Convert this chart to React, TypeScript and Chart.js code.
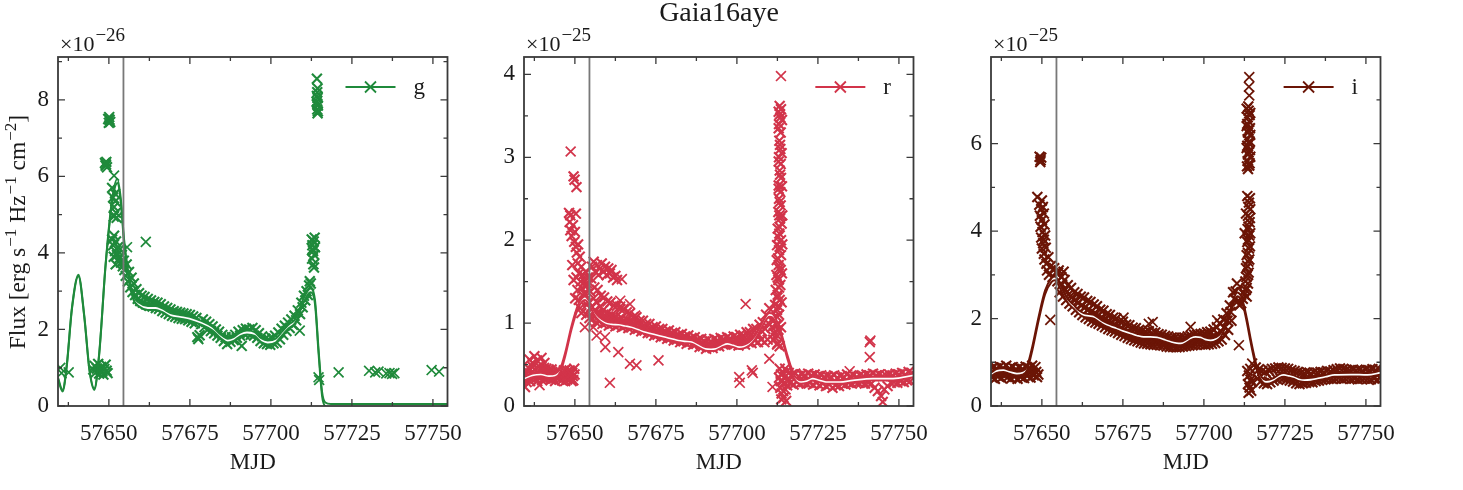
import React, { useEffect, useRef } from 'react';
import { Chart, registerables } from 'chart.js';

Chart.register(...registerables);

type Pt = [number, number];

const FONT = '"Liberation Serif", "Times New Roman", serif';
const TEXT = '#1a1a1a';
const FRAME = '#3a3a3a';

// Epoch marked by the grey vertical line
const PEAK_MJD = 57654.5;
const MJD_RANGE: [number, number] = [57634.3, 57754.5];
const MJD_TICKS = [57650, 57675, 57700, 57725, 57750];
const MJD_MINOR = [57637.5, 57662.5, 57687.5, 57712.5, 57737.5];

// ---------- g band, flux in units of 1e-26 erg s^-1 Hz^-1 cm^-2 ----------
const gTicks = [0, 2, 4, 6, 8];
const gMinor = [1, 3, 5, 7, 9];

const gModel: Pt[] = [
  [57634.3, 0.72], [57635.7, 0.40], [57637.0, 1.05], [57638.6, 2.55], [57640.6, 3.41],
  [57642.4, 2.35], [57644.0, 0.95], [57645.5, 0.44], [57647.0, 1.35], [57649.0, 3.70],
  [57651.0, 5.35], [57652.6, 5.88], [57653.7, 5.35], [57654.7, 4.30], [57655.9, 3.50],
  [57657.5, 2.85], [57659.5, 2.64], [57662.0, 2.56], [57664.5, 2.56], [57666.5, 2.50],
  [57669.0, 2.38], [57672.0, 2.33], [57675.0, 2.28], [57678.3, 2.18], [57682.0, 2.02],
  [57684.5, 1.82], [57686.7, 1.71], [57688.5, 1.75], [57690.5, 1.87], [57692.6, 1.92],
  [57695.0, 1.88], [57697.0, 1.72], [57699.0, 1.66], [57701.5, 1.71], [57703.5, 1.90],
  [57705.5, 2.08], [57707.5, 2.22], [57710.1, 2.76], [57712.2, 3.02], [57713.6, 2.72],
  [57714.7, 1.44], [57715.8, 0.31], [57716.8, 0.04], [57718.5, 0.0], [57754.5, 0.0],
];

const gEarly: Pt[] = [
  [57645.2, 0.95], [57645.6, 1.05], [57646.0, 0.88], [57646.3, 0.98], [57646.7, 1.10],
  [57647.0, 0.85], [57647.3, 0.95], [57647.6, 1.02], [57648.0, 0.90], [57648.3, 0.82],
  [57648.6, 0.97], [57649.0, 1.08], [57649.3, 0.92], [57649.6, 0.86],
];

const gPeak: Pt[] = [
  [57649.8, 7.50], [57650.0, 7.40], [57650.2, 7.48], [57650.4, 7.42], [57650.1, 7.55],
  [57648.8, 6.35], [57649.0, 6.28], [57649.2, 6.38], [57649.4, 6.24], [57649.1, 6.31],
  [57651.0, 5.70], [57651.3, 5.45], [57651.6, 5.20], [57651.9, 5.55], [57652.2, 5.05],
  [57652.4, 4.92], [57651.5, 4.95], [57652.0, 5.35],
  [57651.0, 4.35], [57651.3, 4.20], [57651.6, 4.45], [57651.9, 4.05], [57652.2, 4.30],
  [57652.5, 3.95], [57652.8, 4.15], [57653.1, 3.85], [57653.4, 4.10], [57653.7, 3.75],
  [57654.0, 3.95], [57654.3, 3.65], [57654.6, 3.80], [57651.5, 3.90], [57652.1, 3.70],
];

const gDecline: Pt[] = [
  [57654.8, 3.55], [57655.2, 3.40], [57655.5, 3.70], [57655.9, 3.25], [57656.2, 3.50],
  [57656.6, 3.10], [57657.0, 3.35], [57657.3, 2.98], [57657.7, 3.20], [57658.1, 2.90],
  [57658.5, 3.05], [57658.9, 2.80], [57659.3, 2.95], [57659.7, 2.74], [57660.1, 2.88],
  [57660.5, 2.70], [57661.0, 2.85], [57661.5, 2.66], [57662.0, 2.80], [57662.5, 2.62],
  [57663.0, 2.76], [57663.5, 2.60], [57664.0, 2.72], [57664.5, 2.56], [57665.0, 2.70],
  [57665.5, 2.54], [57666.0, 2.66], [57666.5, 2.48], [57667.0, 2.60], [57667.5, 2.44],
  [57668.0, 2.56], [57668.5, 2.40], [57669.0, 2.52], [57669.5, 2.36], [57670.0, 2.48],
  [57670.5, 2.33], [57671.0, 2.46], [57671.5, 2.30], [57672.0, 2.44], [57672.5, 2.28],
  [57673.0, 2.42], [57673.5, 2.27], [57674.0, 2.40], [57674.5, 2.24], [57675.0, 2.38],
  [57675.5, 2.20], [57676.0, 2.34], [57676.5, 2.16], [57677.0, 2.30], [57677.3, 1.80],
  [57677.6, 1.75], [57678.0, 1.85], [57678.5, 2.14], [57679.0, 2.26], [57679.5, 2.06],
  [57680.0, 2.20], [57680.5, 2.00], [57681.0, 2.14], [57681.5, 1.96], [57682.0, 2.08],
  [57682.5, 1.90], [57683.0, 2.00], [57683.5, 1.84], [57684.0, 1.94], [57684.5, 1.78],
  [57685.0, 1.86], [57685.5, 1.70], [57686.0, 1.80], [57686.5, 1.62], [57687.0, 1.76],
  [57687.5, 1.68], [57688.0, 1.80], [57688.5, 1.72], [57689.0, 1.86], [57689.5, 1.78],
  [57690.0, 1.94], [57690.5, 1.84], [57691.0, 1.57], [57691.3, 1.98], [57691.8, 1.88],
  [57692.3, 2.02], [57692.8, 1.90], [57693.3, 2.00], [57693.8, 1.86], [57694.3, 2.04],
  [57694.8, 1.84], [57695.3, 1.98], [57695.8, 1.78], [57696.3, 1.90], [57696.8, 1.70],
  [57697.3, 1.82], [57697.8, 1.64], [57698.3, 1.76], [57698.8, 1.62], [57699.3, 1.74],
  [57699.8, 1.60], [57700.3, 1.78], [57700.8, 1.64], [57701.3, 1.84], [57701.8, 1.66],
  [57702.3, 1.92], [57702.8, 1.74], [57703.3, 2.02], [57703.8, 1.86], [57704.3, 2.10],
  [57704.8, 1.96], [57705.3, 2.18], [57705.8, 2.04], [57706.3, 2.26], [57706.8, 2.12],
  [57707.3, 2.36], [57707.8, 2.24], [57708.3, 2.50], [57709.0, 2.40],
  [57709.4, 2.70], [57709.8, 2.58], [57710.2, 2.88], [57710.6, 2.76], [57711.0, 3.00],
  [57711.4, 2.90], [57711.8, 3.15], [57712.0, 3.26], [57712.3, 3.20],
];

const gFlare: Pt[] = [
  [57712.6, 4.35], [57712.8, 4.20], [57713.0, 4.05], [57713.2, 4.30], [57713.4, 3.95],
  [57713.6, 4.15], [57712.7, 3.85], [57713.1, 3.70], [57713.5, 4.40], [57712.9, 4.10],
  [57713.3, 3.62],
  [57714.2, 8.55], [57714.3, 8.20], [57714.4, 8.05], [57714.1, 7.95], [57714.5, 7.85],
  [57714.3, 7.75], [57714.4, 7.65], [57714.2, 8.10], [57714.5, 7.70], [57714.3, 7.90],
  [57714.4, 8.30],
];

const gSparse: Pt[] = [
  [57635.0, 1.00], [57635.4, 0.86], [57637.6, 0.88], [57651.6, 6.02], [57655.6, 4.15],
  [57661.4, 4.29], [57708.9, 1.97],
  [57714.7, 0.75], [57714.9, 0.68], [57720.9, 0.88], [57730.3, 0.92], [57732.2, 0.88],
  [57733.2, 0.90], [57735.6, 0.85], [57736.6, 0.86], [57737.4, 0.84], [57738.1, 0.86],
  [57749.6, 0.94], [57751.9, 0.90],
];

// ---------- r band, flux in units of 1e-25 erg s^-1 Hz^-1 cm^-2 ----------
const rTicks = [0, 1, 2, 3, 4];
const rMinor = [0.5, 1.5, 2.5, 3.5];

const rModel: Pt[] = [
  [57634.3, 0.33], [57635.0, 0.34], [57637.0, 0.37], [57639.5, 0.38], [57642.0, 0.36],
  [57644.0, 0.37], [57645.5, 0.43], [57647.0, 0.62], [57649.0, 0.95], [57651.0, 1.20],
  [57653.1, 1.30], [57654.5, 1.24], [57656.0, 1.12], [57657.5, 1.05], [57659.5, 1.00],
  [57661.4, 0.985], [57663.5, 0.98], [57665.5, 0.965], [57667.5, 0.95], [57669.6, 0.92],
  [57671.7, 0.89], [57673.8, 0.87], [57675.9, 0.85], [57677.9, 0.83], [57680.0, 0.81],
  [57682.0, 0.79], [57684.0, 0.78], [57686.2, 0.77], [57688.2, 0.73], [57690.3, 0.69],
  [57692.0, 0.685], [57693.4, 0.69], [57695.0, 0.72], [57697.0, 0.75], [57699.0, 0.73],
  [57700.7, 0.71], [57702.3, 0.72], [57703.8, 0.75], [57705.5, 0.82], [57707.0, 0.92],
  [57708.5, 1.03], [57710.0, 1.10], [57711.0, 1.09], [57712.0, 1.03], [57713.6, 0.87],
  [57715.6, 0.59], [57717.7, 0.35], [57719.8, 0.29], [57721.5, 0.30], [57723.4, 0.33],
  [57725.5, 0.31], [57727.5, 0.29], [57731.7, 0.29], [57735.8, 0.31], [57742.0, 0.33],
  [57748.2, 0.33], [57754.5, 0.37],
];

const rEarly: Pt[] = [
  [57633.8, 0.30], [57634.3, 0.38], [57634.6, 0.23], [57634.9, 0.33], [57635.3, 0.42],
  [57635.7, 0.35], [57636.0, 0.56], [57636.2, 0.30], [57636.6, 0.40], [57636.9, 0.52],
  [57637.2, 0.36], [57637.5, 0.60], [57637.7, 0.44], [57638.0, 0.33], [57638.3, 0.55],
  [57638.6, 0.40], [57638.9, 0.48], [57639.4, 0.36], [57639.7, 0.58],
  [57640.0, 0.42], [57640.3, 0.33], [57640.6, 0.52], [57640.9, 0.38], [57641.2, 0.45],
  [57641.6, 0.34], [57642.0, 0.41], [57642.4, 0.36], [57642.8, 0.44], [57643.2, 0.33],
  [57643.6, 0.40], [57644.0, 0.37], [57644.5, 0.43], [57645.0, 0.35],
  [57646.0, 0.31], [57646.4, 0.40], [57646.8, 0.35], [57647.2, 0.44], [57647.6, 0.32],
  [57648.0, 0.38], [57648.4, 0.43], [57648.8, 0.34], [57649.2, 0.40], [57649.5, 0.31],
  [57649.8, 0.45],
  [57634.1, 0.36], [57634.7, 0.41], [57635.1, 0.29], [57635.9, 0.45], [57636.4, 0.34],
  [57637.0, 0.47], [57637.9, 0.38], [57638.4, 0.30], [57639.0, 0.43], [57639.9, 0.31],
  [57640.5, 0.46], [57641.0, 0.33], [57641.4, 0.40], [57641.9, 0.44], [57642.6, 0.32],
  [57643.0, 0.41], [57643.4, 0.38], [57643.9, 0.30], [57644.3, 0.35], [57644.8, 0.40],
  [57645.3, 0.32], [57646.2, 0.37], [57646.6, 0.43], [57647.0, 0.30], [57647.4, 0.36],
  [57647.8, 0.42], [57648.2, 0.33], [57648.6, 0.39], [57649.0, 0.30], [57649.4, 0.36],
  [57649.9, 0.38],
];

const rRise: Pt[] = [
  [57649.6, 2.77], [57649.9, 2.73], [57650.5, 2.64], [57648.2, 2.33],
  [57648.6, 2.30], [57650.3, 2.32], [57648.4, 2.22], [57648.6, 2.12], [57649.0, 2.05],
  [57649.4, 2.18], [57649.8, 1.98], [57650.0, 2.10], [57650.3, 1.92], [57650.6, 1.85],
  [57650.9, 1.72], [57651.0, 1.95], [57651.3, 1.60], [57651.5, 1.80], [57651.8, 1.50],
  [57652.0, 1.68], [57652.2, 1.42], [57652.5, 1.58], [57652.8, 1.36], [57653.0, 1.50],
  [57653.3, 1.62], [57653.6, 1.45], [57650.5, 1.55], [57650.8, 1.40], [57651.2, 1.28],
  [57651.6, 1.18], [57652.0, 1.12], [57649.2, 1.70], [57649.6, 1.52], [57650.1, 1.30],
];

const rUpper: Pt[] = [
  [57654, 1.55], [57655, 1.54], [57656, 1.43], [57657, 1.40], [57658, 1.33], [57659, 1.31],
  [57660, 1.26], [57661, 1.25], [57662, 1.21], [57663, 1.21], [57664, 1.17], [57665, 1.17],
  [57666, 1.13], [57667, 1.12], [57668, 1.07], [57669, 1.07], [57670, 1.03], [57671, 1.03],
  [57672, 0.99], [57673, 0.99], [57674, 0.95], [57675, 0.96], [57676, 0.93], [57677, 0.93],
  [57678, 0.90], [57679, 0.91], [57680, 0.88], [57681, 0.89], [57682, 0.86], [57683, 0.87],
  [57684, 0.84], [57685, 0.85], [57686, 0.82], [57687, 0.83], [57688, 0.80], [57689, 0.81],
  [57690, 0.78], [57691, 0.80], [57692, 0.78], [57693, 0.81], [57694, 0.79], [57695, 0.82],
  [57696, 0.80], [57697, 0.83], [57698, 0.81], [57699, 0.84], [57700, 0.83], [57701, 0.86],
  [57702, 0.85], [57703, 0.89], [57704, 0.89], [57705, 0.93], [57706, 0.93], [57707, 0.98],
  [57708, 1.01], [57709, 1.10], [57710, 1.18],
];

const rCore: Pt[] = [
  [57653.75, 1.22], [57654.75, 1.18], [57655.75, 1.14], [57656.75, 1.12], [57657.75, 1.10],
  [57658.75, 1.08], [57659.75, 1.07], [57660.75, 1.05], [57661.75, 1.05], [57662.75, 1.03],
  [57663.75, 1.03], [57664.75, 1.01], [57665.75, 1.01], [57666.75, 0.99], [57667.75, 0.99],
  [57668.75, 0.97], [57669.75, 0.97], [57670.75, 0.95], [57671.75, 0.95], [57672.75, 0.92],
  [57673.75, 0.92], [57674.75, 0.89], [57675.75, 0.90], [57676.75, 0.87], [57677.75, 0.87],
  [57678.75, 0.85], [57679.75, 0.85], [57680.75, 0.83], [57681.75, 0.83], [57682.75, 0.81],
  [57683.75, 0.81], [57684.75, 0.79], [57685.75, 0.79], [57686.75, 0.77], [57687.75, 0.77],
  [57688.75, 0.75], [57689.75, 0.75], [57690.75, 0.73], [57691.75, 0.74], [57692.75, 0.74],
  [57693.75, 0.76], [57694.75, 0.76], [57695.75, 0.78], [57696.75, 0.77], [57697.75, 0.79],
  [57698.75, 0.78], [57699.75, 0.79], [57700.75, 0.78], [57701.75, 0.80], [57702.75, 0.80],
  [57703.75, 0.83], [57704.75, 0.83], [57705.75, 0.86], [57706.75, 0.86], [57707.75, 0.90],
  [57708.75, 0.93], [57709.75, 1.00],
];

const rLower: Pt[] = [
  [57653.5, 1.10], [57654.5, 1.06], [57655.5, 1.05], [57656.5, 1.01], [57657.5, 1.02],
  [57658.5, 0.99], [57659.5, 1.00], [57660.5, 0.97], [57661.5, 0.99], [57662.5, 0.96],
  [57663.5, 0.98], [57664.5, 0.95], [57665.5, 0.97], [57666.5, 0.94], [57667.5, 0.95],
  [57668.5, 0.92], [57669.5, 0.93], [57670.5, 0.90], [57671.5, 0.91], [57672.5, 0.88],
  [57673.5, 0.88], [57674.5, 0.85], [57675.5, 0.86], [57676.5, 0.83], [57677.5, 0.84],
  [57678.5, 0.81], [57679.5, 0.82], [57680.5, 0.79], [57681.5, 0.80], [57682.5, 0.77],
  [57683.5, 0.78], [57684.5, 0.75], [57685.5, 0.77], [57686.5, 0.74], [57687.5, 0.75],
  [57688.5, 0.71], [57689.5, 0.72], [57690.5, 0.69], [57691.5, 0.71], [57692.5, 0.70],
  [57693.5, 0.73], [57694.5, 0.72], [57695.5, 0.75], [57696.5, 0.74], [57697.5, 0.77],
  [57698.5, 0.74], [57699.5, 0.75], [57700.5, 0.73], [57701.5, 0.76], [57702.5, 0.74],
  [57703.5, 0.77], [57704.5, 0.76], [57705.5, 0.79], [57706.5, 0.77], [57707.5, 0.80],
  [57708.5, 0.77], [57709.5, 0.80],
];

const rMid: Pt[] = [
  [57653.2, 1.35], [57653.8, 1.48], [57654.2, 1.25], [57654.8, 1.38], [57655.2, 1.20],
  [57655.8, 1.30], [57656.2, 1.15], [57656.8, 1.25], [57657.2, 1.12], [57657.8, 1.20],
  [57658.2, 1.10], [57658.8, 1.16], [57659.3, 1.08], [57660.0, 1.12], [57660.7, 1.06],
  [57661.4, 1.10], [57662.1, 1.05], [57662.8, 1.08], [57663.6, 1.04], [57664.4, 1.06],
  [57665.2, 1.02], [57666.0, 1.04], [57667.0, 1.00], [57668.0, 0.99],
  [57655.3, 1.68], [57655.8, 1.74], [57656.3, 1.62], [57656.8, 1.70], [57657.3, 1.58],
  [57657.8, 1.66], [57658.3, 1.72], [57658.8, 1.62], [57659.3, 1.68], [57659.8, 1.58],
  [57660.3, 1.66], [57660.8, 1.60], [57661.3, 1.64], [57661.8, 1.55], [57662.5, 1.57],
  [57663.0, 1.52],
];

const rFlare: Pt[] = [
  [57713.2, 3.62], [57713.6, 3.58], [57712.9, 3.55], [57713.4, 3.48],
  [57713.0, 3.40], [57713.5, 3.30], [57713.1, 3.20], [57713.4, 3.10], [57713.0, 3.00],
  [57713.5, 2.92], [57713.2, 2.84], [57713.6, 2.75], [57712.9, 2.66], [57713.4, 2.58],
  [57713.0, 2.50], [57713.5, 2.42], [57712.8, 2.34], [57713.3, 2.26], [57713.8, 2.20],
  [57712.6, 2.14], [57713.1, 2.08], [57713.6, 2.00], [57712.4, 1.94], [57713.0, 1.88],
  [57713.6, 1.82], [57712.3, 1.76], [57712.9, 1.70], [57713.5, 1.64], [57712.2, 1.58],
  [57712.8, 1.52], [57713.4, 1.46], [57712.0, 1.40], [57712.6, 1.34], [57713.2, 1.28],
  [57711.8, 1.22], [57712.4, 1.16], [57713.0, 1.10], [57711.6, 1.04], [57712.2, 0.98],
  [57712.8, 0.92], [57711.4, 0.88], [57712.0, 0.82], [57712.6, 0.76], [57711.2, 0.80],
  [57713.2, 0.72], [57710.8, 0.95], [57711.0, 1.05],
  [57713.3, 3.52], [57712.9, 3.35], [57713.3, 3.15], [57712.9, 2.95], [57713.3, 2.79],
  [57712.9, 2.62], [57713.2, 2.46], [57713.1, 2.30], [57713.2, 2.16], [57712.8, 2.04],
  [57713.2, 1.92], [57712.7, 1.78], [57713.1, 1.66], [57712.6, 1.55], [57713.0, 1.43],
  [57712.5, 1.31], [57712.9, 1.20], [57712.3, 1.08], [57712.7, 0.98], [57712.2, 0.86],
  [57712.4, 0.74],
  [57713.9, 3.45], [57713.8, 3.05], [57713.9, 2.65], [57714.0, 2.30], [57714.0, 1.95],
  [57713.9, 1.60], [57713.8, 1.25], [57713.6, 0.95],
  [57713.2, 0.45], [57713.6, 0.38], [57714.0, 0.30], [57713.4, 0.22], [57713.8, 0.15],
  [57714.2, 0.40], [57714.6, 0.28], [57715.0, 0.20], [57714.4, 0.10], [57714.8, 0.35],
  [57715.4, 0.42], [57715.2, 0.06], [57713.0, 0.34], [57715.8, 0.30], [57713.5, 0.30],
  [57714.3, 0.18], [57714.9, 0.45], [57713.7, 0.08], [57715.5, 0.25],
];

const rTail: Pt[] = [
  [57716, 0.40], [57717, 0.38], [57718, 0.39], [57719, 0.36], [57720, 0.38], [57721, 0.37],
  [57722, 0.39], [57723, 0.37], [57724, 0.38], [57725, 0.36], [57726, 0.37], [57727, 0.35],
  [57728, 0.36], [57729, 0.35], [57730, 0.37], [57731, 0.34], [57732, 0.36], [57733, 0.35],
  [57734, 0.38], [57735, 0.36], [57736, 0.37], [57737, 0.35], [57738, 0.37], [57739, 0.36],
  [57740, 0.38], [57741, 0.37], [57742, 0.39], [57743, 0.37], [57744, 0.38], [57745, 0.36],
  [57746, 0.37], [57747, 0.38], [57748, 0.37], [57749, 0.39], [57750, 0.38], [57751, 0.40],
  [57752, 0.38], [57753, 0.41], [57754, 0.40],
  [57716.5, 0.28], [57717.5, 0.26], [57718.5, 0.29], [57719.5, 0.27], [57720.5, 0.29],
  [57721.5, 0.27], [57722.5, 0.28], [57723.5, 0.26], [57724.5, 0.28], [57725.5, 0.25],
  [57726.5, 0.27], [57727.5, 0.24], [57728.5, 0.26], [57729.5, 0.22], [57730.5, 0.25],
  [57731.5, 0.24], [57732.5, 0.27], [57733.5, 0.26], [57734.5, 0.28], [57735.5, 0.27],
  [57736.5, 0.29], [57737.5, 0.28], [57738.5, 0.29], [57739.5, 0.27], [57740.5, 0.28],
  [57741.5, 0.27], [57742.5, 0.22], [57743.5, 0.18], [57744.5, 0.12], [57745.0, 0.05],
  [57745.5, 0.20], [57746.5, 0.24], [57747.5, 0.28], [57748.5, 0.29], [57749.5, 0.28],
  [57750.5, 0.30], [57751.5, 0.29], [57752.5, 0.31], [57753.5, 0.30],
];

const rSparse: Pt[] = [
  [57639.1, 0.25], [57648.7, 3.07], [57713.6, 3.98], [57664.5, 1.53],
  [57653.1, 0.95], [57655.7, 0.95], [57656.7, 0.85], [57659.3, 0.83], [57659.4, 0.71],
  [57663.4, 0.65], [57667.0, 0.51], [57669.0, 0.49], [57675.8, 0.55], [57660.8, 0.28],
  [57664.0, 1.27], [57664.0, 1.20], [57667.0, 1.23], [57668.6, 1.09], [57702.7, 1.23],
  [57700.7, 0.35], [57700.9, 0.28], [57704.6, 0.43], [57704.9, 0.40], [57710.0, 0.57],
  [57711.0, 0.23], [57741.0, 0.77], [57741.2, 0.79], [57741.0, 0.59], [57734.8, 0.42],
];

// ---------- i band, flux in units of 1e-25 erg s^-1 Hz^-1 cm^-2 ----------
const iTicks = [0, 2, 4, 6];
const iMinor = [1, 3, 5, 7];

const iModel: Pt[] = [
  [57634.3, 0.72], [57636.0, 0.80], [57638.1, 0.82], [57640.0, 0.78], [57642.3, 0.74],
  [57644.0, 0.76], [57645.4, 0.86], [57647.0, 1.30], [57649.0, 2.00], [57651.0, 2.60],
  [57653.0, 2.88], [57654.1, 2.92], [57655.2, 2.80], [57656.7, 2.57], [57658.0, 2.40],
  [57659.8, 2.27], [57661.3, 2.15], [57662.9, 2.08], [57664.5, 2.06], [57666.0, 2.04],
  [57667.5, 1.97], [57669.1, 1.89], [57671.0, 1.83], [57673.2, 1.77], [57675.3, 1.71],
  [57677.3, 1.66], [57679.4, 1.61], [57681.4, 1.58], [57683.5, 1.58], [57685.6, 1.57],
  [57687.7, 1.52], [57689.7, 1.47], [57692.8, 1.43], [57694.5, 1.48], [57695.9, 1.55],
  [57697.5, 1.58], [57699.0, 1.57], [57700.5, 1.52], [57702.1, 1.50], [57703.7, 1.53],
  [57705.2, 1.62], [57706.8, 1.88], [57708.3, 2.19], [57710.3, 2.55], [57711.4, 2.48],
  [57712.4, 2.25], [57713.4, 1.90], [57714.4, 1.51], [57715.4, 1.15], [57716.5, 0.82],
  [57717.8, 0.62], [57719.1, 0.55], [57720.3, 0.56], [57721.6, 0.60], [57723.2, 0.68],
  [57724.7, 0.71], [57726.2, 0.69], [57727.8, 0.66], [57729.4, 0.61], [57731.0, 0.59],
  [57733.0, 0.60], [57735.1, 0.63], [57737.7, 0.67], [57740.3, 0.71], [57745.4, 0.72],
  [57750.5, 0.71], [57754.5, 0.76],
];

const iEarly: Pt[] = [
  [57634, 0.84], [57635, 0.88], [57636, 0.86], [57637, 0.90], [57638, 0.87], [57639, 0.92],
  [57640, 0.86], [57641, 0.89], [57642, 0.84], [57643, 0.88], [57644, 0.85], [57645, 0.90],
  [57646, 0.87], [57647, 0.92], [57648, 0.89],
  [57634.5, 0.66], [57635.5, 0.62], [57636.5, 0.68], [57637.5, 0.64], [57638.5, 0.70],
  [57639.5, 0.66], [57640.5, 0.63], [57641.5, 0.67], [57642.5, 0.62], [57643.5, 0.66],
  [57644.5, 0.64], [57645.5, 0.69], [57646.5, 0.65], [57647.5, 0.70], [57648.5, 0.66],
  [57634.25, 0.76], [57635.25, 0.74], [57636.25, 0.78], [57637.25, 0.76], [57638.25, 0.79],
  [57639.25, 0.75], [57640.25, 0.77], [57641.25, 0.74], [57642.25, 0.76], [57643.25, 0.73],
  [57644.25, 0.77], [57645.25, 0.75], [57646.25, 0.79], [57647.25, 0.76], [57648.25, 0.78],
  [57648.9, 0.72],
];

const iRise: Pt[] = [
  [57649.3, 5.70], [57649.6, 5.62], [57649.8, 5.68], [57649.5, 5.58], [57648.6, 4.78],
  [57649.2, 4.60], [57649.8, 4.50], [57650.3, 4.55], [57649.4, 4.35], [57650.0, 4.25],
  [57650.6, 4.40], [57649.6, 4.10], [57650.2, 3.98], [57650.8, 4.15], [57649.8, 3.85],
  [57650.4, 3.72], [57651.0, 3.90], [57650.0, 3.60], [57650.6, 3.48], [57651.2, 3.62],
  [57650.8, 3.35], [57651.4, 3.25], [57652.0, 3.40], [57651.6, 3.10], [57652.2, 3.00],
  [57652.8, 3.20], [57653.3, 2.95], [57653.8, 3.15], [57654.3, 3.05], [57654.8, 2.85],
  [57655.2, 3.10], [57656.7, 3.07], [57650.0, 4.70], [57650.6, 3.80],
];

const iUpper: Pt[] = [
  [57655, 3.05], [57656, 2.95], [57657, 2.88], [57658, 2.76], [57659, 2.70], [57660, 2.60],
  [57661, 2.56], [57662, 2.50], [57663, 2.48], [57664, 2.40], [57665, 2.38], [57666, 2.32],
  [57667, 2.28], [57668, 2.20], [57669, 2.18], [57670, 2.10], [57671, 2.08], [57672, 2.02],
  [57673, 2.00], [57674, 1.94], [57675, 1.93], [57676, 1.86], [57677, 1.85], [57678, 1.79],
  [57679, 1.78], [57680, 1.74], [57681, 1.73], [57682, 1.70], [57683, 1.71], [57684, 1.67],
  [57685, 1.68], [57686, 1.64], [57687, 1.63], [57688, 1.60], [57689, 1.59], [57690, 1.56],
  [57691, 1.56], [57692, 1.55], [57693, 1.56], [57694, 1.56], [57695, 1.59], [57696, 1.60],
  [57697, 1.63], [57698, 1.63], [57699, 1.65], [57700, 1.66], [57701, 1.69], [57702, 1.70],
  [57703, 1.75], [57704, 1.80], [57705, 1.88], [57706, 1.98], [57707, 2.12], [57708, 2.30],
  [57709, 2.60],
];

const iLower: Pt[] = [
  [57655.5, 2.60], [57656.5, 2.50], [57657.5, 2.42], [57658.5, 2.34], [57659.5, 2.28],
  [57660.5, 2.20], [57661.5, 2.14], [57662.5, 2.08], [57663.5, 2.03], [57664.5, 1.99],
  [57665.5, 1.94], [57666.5, 1.91], [57667.5, 1.88], [57668.5, 1.84], [57669.5, 1.80],
  [57670.5, 1.76], [57671.5, 1.73], [57672.5, 1.70], [57673.5, 1.67], [57674.5, 1.63],
  [57675.5, 1.60], [57676.5, 1.56], [57677.5, 1.53], [57678.5, 1.50], [57679.5, 1.48],
  [57680.5, 1.45], [57681.5, 1.43], [57682.5, 1.42], [57683.5, 1.41], [57684.5, 1.40],
  [57685.5, 1.40], [57686.5, 1.39], [57687.5, 1.38], [57688.5, 1.36], [57689.5, 1.35],
  [57690.5, 1.35], [57691.5, 1.34], [57692.5, 1.35], [57693.5, 1.36], [57694.5, 1.37],
  [57695.5, 1.38], [57696.5, 1.39], [57697.5, 1.40], [57698.5, 1.41], [57699.5, 1.41],
  [57700.5, 1.40], [57701.5, 1.41], [57702.5, 1.42], [57703.5, 1.44], [57704.5, 1.48],
  [57705.5, 1.52], [57706.5, 1.62], [57707.5, 1.74], [57708.5, 1.95],
];

const iMid: Pt[] = [
  [57656.25, 2.78], [57658.25, 2.55], [57660.25, 2.42], [57662.25, 2.30], [57664.25, 2.20],
  [57666.25, 2.12], [57668.25, 2.02], [57670.25, 1.94], [57672.25, 1.86], [57674.25, 1.78],
  [57676.25, 1.70], [57678.25, 1.64], [57680.25, 1.60], [57682.25, 1.56], [57684.25, 1.54],
  [57686.25, 1.52], [57688.25, 1.48], [57690.25, 1.46], [57692.25, 1.45], [57694.25, 1.46],
  [57696.25, 1.50], [57698.25, 1.52], [57700.25, 1.53], [57702.25, 1.56], [57704.25, 1.64],
  [57706.25, 1.80], [57708.25, 2.15],
  [57657.25, 2.66], [57659.25, 2.48], [57661.25, 2.36], [57663.25, 2.25], [57665.25, 2.16],
  [57667.25, 2.07], [57669.25, 1.98], [57671.25, 1.90], [57673.25, 1.82], [57675.25, 1.74],
  [57677.25, 1.67], [57679.25, 1.62], [57681.25, 1.58], [57683.25, 1.55], [57685.25, 1.53],
  [57687.25, 1.50], [57689.25, 1.47], [57691.25, 1.45], [57693.25, 1.45], [57695.25, 1.48],
  [57697.25, 1.51], [57699.25, 1.53], [57701.25, 1.55], [57703.25, 1.59], [57705.25, 1.70],
  [57707.25, 1.95],
];

const iFlare: Pt[] = [
  [57713.2, 6.80], [57713.8, 6.75], [57714.3, 6.70], [57713.5, 6.60], [57714.0, 6.50],
  [57713.2, 6.40], [57713.8, 6.30], [57714.3, 6.20], [57713.5, 6.10], [57714.0, 6.00],
  [57713.2, 5.90], [57713.8, 5.80], [57714.3, 5.70], [57713.5, 5.60], [57714.0, 5.50],
  [57713.6, 5.42],
  [57713.7, 6.85], [57714.1, 6.65], [57713.4, 6.45], [57714.2, 6.35], [57713.6, 6.25],
  [57714.1, 6.05], [57713.4, 5.95], [57714.2, 5.85], [57713.6, 5.75], [57714.1, 5.55],
  [57713.3, 5.48],
  [57713.4, 4.80], [57713.9, 4.65], [57714.3, 4.50], [57713.6, 4.35], [57714.1, 4.20],
  [57713.5, 4.05], [57714.0, 3.90], [57713.4, 3.75], [57713.9, 3.60], [57713.2, 3.45],
  [57713.7, 3.30], [57713.0, 3.15], [57713.5, 3.00], [57712.8, 2.85], [57713.2, 2.70],
  [57712.5, 2.55], [57712.0, 2.45], [57711.5, 2.35], [57711.0, 2.30], [57710.5, 2.40],
  [57712.6, 3.95], [57713.0, 4.40], [57709.4, 2.45], [57709.8, 2.62], [57710.2, 2.80],
  [57714.2, 4.75], [57713.7, 4.55], [57714.2, 4.30], [57713.8, 4.10], [57714.3, 3.95],
  [57713.6, 3.80], [57714.2, 3.65], [57713.6, 3.50], [57714.0, 3.35], [57713.4, 3.20],
  [57713.8, 3.05], [57713.1, 2.95], [57713.6, 2.80], [57712.9, 2.65], [57713.2, 2.50],
  [57712.2, 2.60],
  [57713.4, 0.80], [57713.9, 0.70], [57714.4, 0.60], [57713.6, 0.50], [57714.1, 0.42],
  [57714.6, 0.35], [57713.8, 0.30], [57714.3, 0.85], [57714.8, 0.55],
];

const iTail: Pt[] = [
  [57716, 0.88], [57717, 0.84], [57718, 0.80], [57719, 0.78], [57720, 0.82], [57721, 0.85],
  [57722, 0.86], [57723, 0.88], [57724, 0.87], [57725, 0.86], [57726, 0.85], [57727, 0.82],
  [57728, 0.80], [57729, 0.78], [57730, 0.76], [57731, 0.75], [57732, 0.76], [57733, 0.74],
  [57734, 0.77], [57735, 0.76], [57736, 0.78], [57737, 0.77], [57738, 0.80], [57739, 0.79],
  [57740, 0.82], [57741, 0.84], [57742, 0.86], [57743, 0.85], [57744, 0.83], [57745, 0.82],
  [57746, 0.83], [57747, 0.81], [57748, 0.82], [57749, 0.80], [57750, 0.83], [57751, 0.82],
  [57752, 0.84], [57753, 0.82], [57754, 0.85],
  [57716.5, 0.62], [57717.5, 0.56], [57718.5, 0.52], [57719.5, 0.50], [57720.5, 0.54],
  [57721.5, 0.58], [57722.5, 0.62], [57723.5, 0.64], [57724.5, 0.63], [57725.5, 0.60],
  [57726.5, 0.58], [57727.5, 0.56], [57728.5, 0.52], [57729.5, 0.50], [57730.5, 0.52],
  [57731.5, 0.53], [57732.5, 0.55], [57733.5, 0.54], [57734.5, 0.57], [57735.5, 0.58],
  [57736.5, 0.60], [57737.5, 0.61], [57738.5, 0.62], [57739.5, 0.62], [57740.5, 0.63],
  [57741.5, 0.64], [57742.5, 0.62], [57743.5, 0.63], [57744.5, 0.64], [57745.5, 0.62],
  [57746.5, 0.63], [57747.5, 0.61], [57748.5, 0.62], [57749.5, 0.63], [57750.5, 0.62],
  [57751.5, 0.61], [57752.5, 0.63], [57753.5, 0.60], [57754.3, 0.64],
];

const iSparse: Pt[] = [
  [57652.6, 1.97], [57713.9, 7.30], [57714.0, 7.52], [57714.0, 7.10],
  [57675.2, 2.02], [57683.0, 1.88], [57684.2, 1.92], [57695.9, 1.81], [57704.1, 1.96],
  [57710.8, 1.39], [57714.9, 0.97],
];

interface PanelSpec {
  band: string;
  color: string;
  exponent: string;
  yMax: number;
  yTicks: number[];
  yMinor: number[];
  model: Pt[];
  dense: Pt[][];
  sparse: Pt[];
  halfWidth: number;
  narrowUntil: number;
  narrowHalfWidth: number;
  left: number;
}

const panels: PanelSpec[] = [
  {
    band: 'g', color: '#1f8a3b', exponent: '\u221226', yMax: 9.12, yTicks: gTicks, yMinor: gMinor,
    model: gModel, dense: [gEarly, gPeak, gDecline, gFlare], sparse: gSparse,
    halfWidth: 0.05, narrowUntil: 57650, narrowHalfWidth: 0.02, left: 0,
  },
  {
    band: 'r', color: '#d2344a', exponent: '\u221225', yMax: 4.21, yTicks: rTicks, yMinor: rMinor,
    model: rModel, dense: [rEarly, rRise, rUpper, rCore, rLower, rMid, rFlare, rTail], sparse: rSparse,
    halfWidth: 0.022, narrowUntil: 0, narrowHalfWidth: 0.022, left: 466,
  },
  {
    band: 'i', color: '#6b1506', exponent: '\u221225', yMax: 7.98, yTicks: iTicks, yMinor: iMinor,
    model: iModel, dense: [iEarly, iRise, iUpper, iLower, iMid, iFlare, iTail], sparse: iSparse,
    halfWidth: 0.043, narrowUntil: 0, narrowHalfWidth: 0.043, left: 933,
  },
];

const CANVAS_W = 480;
const CANVAS_H = 490;
const AXIS_W = 58;
const AREA_W = 389.5;

function drawCross(ctx: CanvasRenderingContext2D, x: number, y: number, h: number) {
  ctx.beginPath();
  ctx.moveTo(x - h, y - h); ctx.lineTo(x + h, y + h);
  ctx.moveTo(x - h, y + h); ctx.lineTo(x + h, y - h);
  ctx.stroke();
}

// Frame with inward ticks on all sides, epoch line, offset label and legend
const decorPlugin = {
  id: 'decor',
  afterDatasetsDraw(chart: any, _args: any, opts: any) {
    const { ctx, chartArea: a, scales } = chart;
    const xs = scales.x;
    const ys = scales.y;
    ctx.save();

    const vx = xs.getPixelForValue(PEAK_MJD);
    ctx.strokeStyle = '#787878';
    ctx.lineWidth = 1.8;
    ctx.beginPath(); ctx.moveTo(vx, a.top); ctx.lineTo(vx, a.bottom); ctx.stroke();

    ctx.strokeStyle = FRAME;
    ctx.lineWidth = 1.3;
    const xTick = (v: number, len: number) => {
      const px = xs.getPixelForValue(v);
      ctx.beginPath();
      ctx.moveTo(px, a.bottom); ctx.lineTo(px, a.bottom - len);
      ctx.moveTo(px, a.top); ctx.lineTo(px, a.top + len);
      ctx.stroke();
    };
    const yTick = (v: number, len: number) => {
      const py = ys.getPixelForValue(v);
      ctx.beginPath();
      ctx.moveTo(a.left, py); ctx.lineTo(a.left + len, py);
      ctx.moveTo(a.right, py); ctx.lineTo(a.right - len, py);
      ctx.stroke();
    };
    MJD_TICKS.forEach((v) => xTick(v, 7));
    MJD_MINOR.forEach((v) => xTick(v, 4));
    opts.yTicks.forEach((v: number) => yTick(v, 7));
    opts.yMinor.forEach((v: number) => yTick(v, 4));

    ctx.lineWidth = 1.8;
    ctx.strokeRect(a.left, a.top, a.right - a.left, a.bottom - a.top);

    // offset text ×10^exp
    ctx.fillStyle = TEXT;
    ctx.textBaseline = 'alphabetic';
    ctx.textAlign = 'left';
    ctx.font = `22px ${FONT}`;
    const base = '\u00d710';
    ctx.fillText(base, a.left + 2, a.top - 6);
    const bw = ctx.measureText(base).width;
    ctx.font = `19px ${FONT}`;
    ctx.fillText(opts.exponent, a.left + 2 + bw + 1, a.top - 16);

    // legend: line with a cross marker, then band name
    ctx.font = `23px ${FONT}`;
    const tw = ctx.measureText(opts.band).width;
    const textRight = a.right - 22.5;
    const textLeft = textRight - tw;
    const ly = a.top + 30;
    const lx1 = textLeft - 18;
    const lx0 = lx1 - 50;
    ctx.strokeStyle = opts.color;
    ctx.lineWidth = 2.2;
    ctx.beginPath(); ctx.moveTo(lx0, ly); ctx.lineTo(lx1, ly); ctx.stroke();
    ctx.lineWidth = 1.8;
    drawCross(ctx, (lx0 + lx1) / 2, ly, 5.5);
    ctx.fillStyle = TEXT;
    ctx.fillText(opts.band, textLeft, ly + 7);

    ctx.restore();
  },
};

function buildConfig(p: PanelSpec): any {
  const half = (x: number) => (x < p.narrowUntil ? p.narrowHalfWidth : p.halfWidth);
  const upper = p.model.map(([x, y]) => ({ x, y: y + half(x) }));
  const lower = p.model.map(([x, y]) => ({ x, y: y - half(x) }));
  const densePts = p.dense.flat().map(([x, y]) => ({ x, y }));
  const sparsePts = p.sparse.map(([x, y]) => ({ x, y }));
  const tickFont = { family: FONT, size: 23 };
  const marker = {
    type: 'scatter', pointStyle: 'crossRot', pointRadius: 7,
    borderColor: p.color, backgroundColor: p.color, clip: 0,
  };

  return {
    type: 'scatter',
    data: {
      datasets: [
        {
          type: 'line', data: upper, borderColor: p.color, borderWidth: 2, pointRadius: 0,
          fill: false, cubicInterpolationMode: 'monotone', clip: 0,
        },
        {
          type: 'line', data: lower, borderColor: p.color, borderWidth: 2, pointRadius: 0,
          fill: '-1', backgroundColor: '#ffffff', cubicInterpolationMode: 'monotone', clip: 0,
        },
        { ...marker, data: sparsePts, borderWidth: 1.7 },
        { ...marker, data: densePts, borderWidth: 2.1 },
      ],
    },
    options: {
      responsive: false,
      animation: false,
      devicePixelRatio: 1,
      events: [],
      layout: { padding: { top: 57, left: 0, right: CANVAS_W - AXIS_W - AREA_W, bottom: 0 } },
      plugins: {
        legend: { display: false },
        tooltip: { enabled: false },
        decor: { yTicks: p.yTicks, yMinor: p.yMinor, exponent: p.exponent, band: p.band, color: p.color },
      },
      scales: {
        x: {
          type: 'linear',
          min: MJD_RANGE[0],
          max: MJD_RANGE[1],
          afterBuildTicks: (s: any) => { s.ticks = MJD_TICKS.map((value) => ({ value })); },
          afterFit: (s: any) => { s.height = CANVAS_H - 406; },
          ticks: { font: tickFont, color: TEXT, padding: 14, maxRotation: 0, autoSkip: false, callback: (v: number) => String(v) },
          grid: { display: false, drawTicks: false },
          border: { display: false },
          title: { display: true, text: 'MJD', color: TEXT, font: tickFont, padding: { top: 0, bottom: 13 } },
        },
        y: {
          type: 'linear',
          min: 0,
          max: p.yMax,
          afterBuildTicks: (s: any) => { s.ticks = p.yTicks.map((value) => ({ value })); },
          afterFit: (s: any) => { s.width = AXIS_W; },
          ticks: { font: tickFont, color: TEXT, padding: 9, callback: (v: number) => String(v) },
          grid: { display: false, drawTicks: false },
          border: { display: false },
        },
      },
    },
    plugins: [decorPlugin],
  };
}

function LightCurvePanel({ spec }: { spec: PanelSpec }) {
  const ref = useRef<HTMLCanvasElement>(null);
  useEffect(() => {
    const chart = new Chart(ref.current as HTMLCanvasElement, buildConfig(spec));
    return () => chart.destroy();
  }, [spec]);
  return (
    <canvas
      ref={ref}
      width={CANVAS_W}
      height={CANVAS_H}
      style={{ position: 'absolute', left: spec.left, top: 0, width: CANVAS_W, height: CANVAS_H }}
    />
  );
}

const supStyle: React.CSSProperties = { fontSize: 17, position: 'relative', top: -9, marginLeft: 1 };

export default function App() {
  return (
    <div style={{ position: 'absolute', left: 0, top: 0, width: 1463, height: 490, background: '#fff', overflow: 'hidden' }}>
      {panels.map((p) => (
        <LightCurvePanel key={p.band} spec={p} />
      ))}
      <div
        style={{
          position: 'absolute', left: 0, top: -2, width: 1438, textAlign: 'center',
          fontFamily: FONT, fontSize: 28, lineHeight: '28px', color: TEXT,
        }}
      >
        Gaia16aye
      </div>
      <div
        style={{
          position: 'absolute', left: 17 - 170, top: 232 - 14, width: 340, height: 28,
          lineHeight: '28px', textAlign: 'center', fontFamily: FONT, fontSize: 23.5, color: TEXT,
          transform: 'rotate(-90deg)', whiteSpace: 'nowrap',
        }}
      >
        Flux [erg s<span style={supStyle}>{'\u22121'}</span> Hz<span style={supStyle}>{'\u22121'}</span> cm
        <span style={supStyle}>{'\u22122'}</span>]
      </div>
    </div>
  );
}
